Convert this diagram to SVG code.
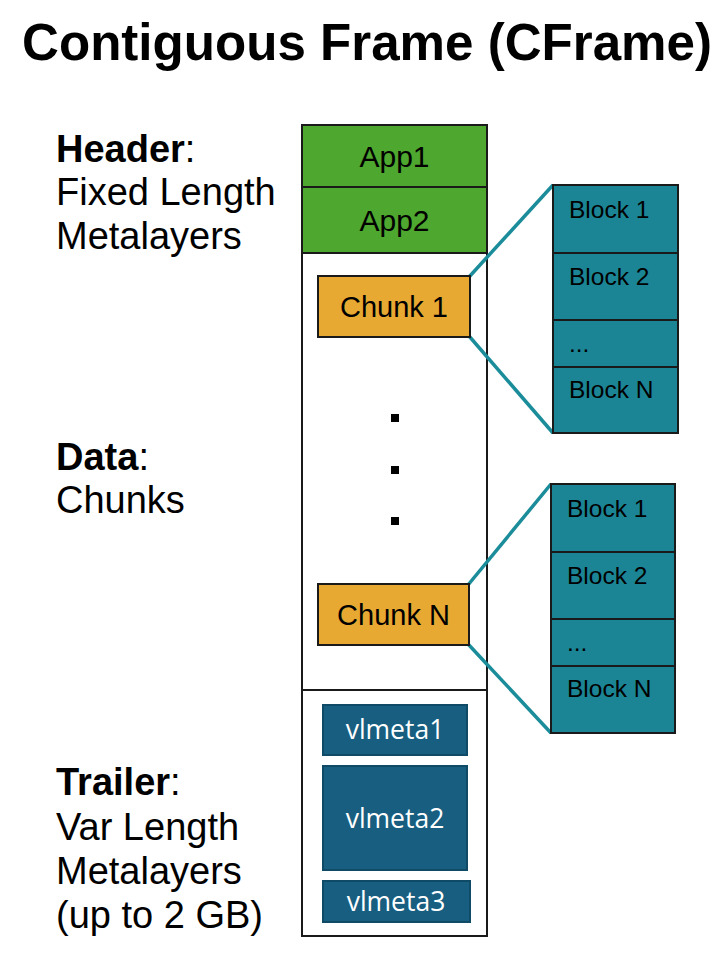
<svg xmlns="http://www.w3.org/2000/svg" width="726" height="978" viewBox="0 0 726 978">
<style>
.lbl{font-family:"Liberation Sans",Arial,sans-serif;font-size:38px;fill:#000}
.b{font-weight:bold}
.box{stroke:#1a1a1a;stroke-width:2}
.app{fill:#4EA72E}
.chunk{fill:#E8A932}
.blk{fill:#1B8595}
.vl{fill:#175E80;stroke:#0F4A66;stroke-width:2}
.t28{font-family:"Liberation Sans",Arial,sans-serif;font-size:29px;fill:#000;text-anchor:middle}
.ta{font-size:30px}
.t24{font-family:"Liberation Sans",Arial,sans-serif;font-size:24.5px;fill:#000}
.vt{font-family:"Open Sans","Noto Sans",sans-serif;font-size:26.5px;fill:#fff;text-anchor:middle}
.con{stroke:#1B8C9A;stroke-width:3.5;fill:none}
</style>
<rect width="726" height="978" fill="#fff"/>
<text x="22" y="60" font-family="Liberation Sans,Arial,sans-serif" font-weight="bold" font-size="52" textLength="690" lengthAdjust="spacingAndGlyphs">Contiguous Frame (CFrame)</text>

<g id="labels">
<text class="lbl" x="56" y="162"><tspan class="b">Header</tspan>:</text>
<text class="lbl" x="56" y="205">Fixed Length</text>
<text class="lbl" x="56" y="249">Metalayers</text>
<text class="lbl" x="56" y="470"><tspan class="b">Data</tspan>:</text>
<text class="lbl" x="56" y="513">Chunks</text>
<text class="lbl" x="56" y="795"><tspan class="b">Trailer</tspan>:</text>
<text class="lbl" x="56" y="840">Var Length</text>
<text class="lbl" x="56" y="884">Metalayers</text>
<text class="lbl" x="56" y="928">(up to 2 GB)</text>
</g>

<g id="frame">
<rect x="302" y="125" width="185" height="811" fill="#fff" class="box"/>
<line x1="302" y1="690" x2="487" y2="690" class="box"/>
</g>
<g id="app1"><rect x="302" y="125" width="185" height="62" class="app box"/><text class="t28 ta" x="394.5" y="167">App1</text></g>
<g id="app2"><rect x="302" y="187" width="185" height="66" class="app box"/><text class="t28 ta" x="394.5" y="231">App2</text></g>

<g id="connectors">
<line class="con" x1="469" y1="277" x2="553" y2="185"/>
<line class="con" x1="469" y1="336" x2="553" y2="433"/>
<line class="con" x1="468" y1="585" x2="551" y2="484"/>
<line class="con" x1="468" y1="644" x2="551" y2="733"/>
</g>

<g id="chunk1"><rect x="318" y="276" width="152" height="61" class="chunk box"/><text class="t28" x="394" y="317">Chunk 1</text></g>
<g id="dots">
<rect x="391" y="414" width="8" height="8"/>
<rect x="391" y="466" width="8" height="8"/>
<rect x="391" y="517" width="8" height="8"/>
</g>
<g id="chunkN"><rect x="318" y="584" width="151" height="61" class="chunk box"/><text class="t28" x="393.5" y="625">Chunk N</text></g>

<g id="blocks1">
<rect x="553" y="185" width="125" height="68" class="blk box"/>
<rect x="553" y="253" width="125" height="67" class="blk box"/>
<rect x="553" y="320" width="125" height="47" class="blk box"/>
<rect x="553" y="367" width="125" height="66" class="blk box"/>
<text class="t24" x="569" y="218">Block 1</text>
<text class="t24" x="569" y="285">Block 2</text>
<text class="t24" x="569" y="352">...</text>
<text class="t24" x="569" y="398">Block N</text>
</g>
<g id="blocks2">
<rect x="551" y="484" width="124" height="68" class="blk box"/>
<rect x="551" y="552" width="124" height="67" class="blk box"/>
<rect x="551" y="619" width="124" height="47" class="blk box"/>
<rect x="551" y="666" width="124" height="67" class="blk box"/>
<text class="t24" x="567" y="517">Block 1</text>
<text class="t24" x="567" y="584">Block 2</text>
<text class="t24" x="567" y="651">...</text>
<text class="t24" x="567" y="697">Block N</text>
</g>

<g id="vlmeta1"><rect x="323" y="705" width="144" height="50" class="vl"/><text class="vt" x="395" y="739">vlmeta1</text></g>
<g id="vlmeta2"><rect x="323" y="766" width="144" height="104" class="vl"/><text class="vt" x="395" y="828">vlmeta2</text></g>
<g id="vlmeta3"><rect x="323" y="881" width="147" height="41" class="vl"/><text class="vt" x="396" y="911">vlmeta3</text></g>
</svg>
